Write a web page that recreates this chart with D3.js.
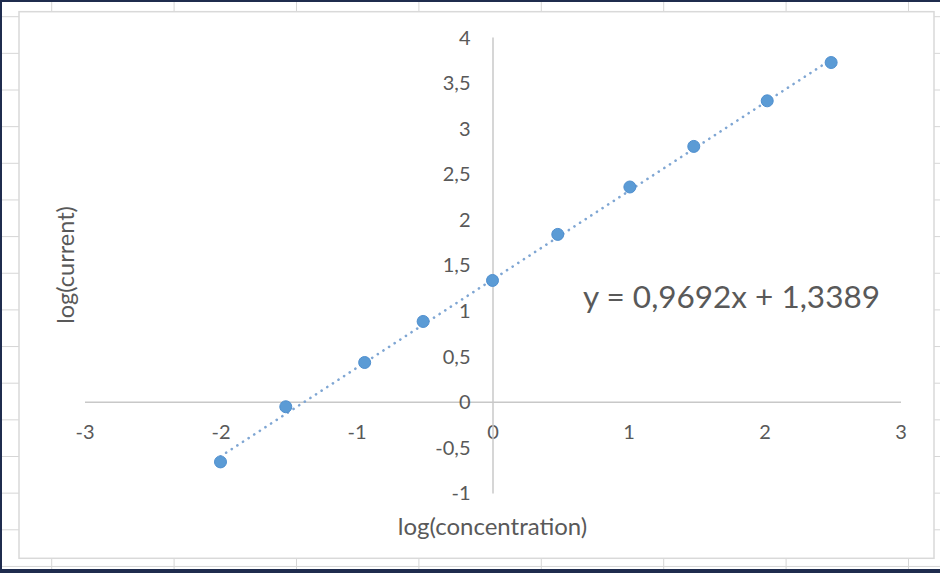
<!DOCTYPE html>
<html>
<head>
<meta charset="utf-8">
<script src="https://cdn.jsdelivr.net/npm/d3@7"></script>
<style>
  body { margin: 0; background: #fff; }
  text { font-family: Lato, "Open Sans", sans-serif; fill: #595959; }
</style>
</head>
<body>
<svg id="chart" width="940" height="573"></svg>
<script>
// values
const logConc    = [-2, -1.52, -0.94, -0.51, 0, 0.48, 1.01, 1.48, 2.02, 2.49];
const logCurrent = [-0.66, -0.055, 0.43, 0.88, 1.33, 1.835, 2.355, 2.80, 3.30, 3.72];
const xTicks = [-3, -2, -1, 0, 1, 2, 3];
const yTicks = [-1, -0.5, 0, 0.5, 1, 1.5, 2, 2.5, 3, 3.5, 4];
const slope = 0.9692, intercept = 1.3389;
const eqLabel = "y = 0,9692x + 1,3389";

const svg = d3.select("#chart"),
    width = +svg.attr("width"),
    height = +svg.attr("height");

// comma decimals, plain hyphen minus like excel
const comma = d3.formatLocale({decimal: ",", thousands: ".", grouping: [3], currency: ["", "€"], minus: "-"}).format("~g");

// spreadsheet behind the chart
const sheet = svg.append("g");
sheet.selectAll("line.col")
    .data(d3.range(0, 8))
    .enter().append("line")
    .attr("x1", d => 51.7 + d * 122.4).attr("x2", d => 51.7 + d * 122.4)
    .attr("y1", 0).attr("y2", height)
    .style("stroke", "#d6d6d6").style("stroke-width", 1);
sheet.selectAll("line.row")
    .data(d3.range(0, 16))
    .enter().append("line")
    .attr("y1", d => 16.7 + d * 36.65).attr("y2", d => 16.7 + d * 36.65)
    .attr("x1", 0).attr("x2", width)
    .style("stroke", "#d6d6d6").style("stroke-width", 1);

// chart area
svg.append("rect")
    .attr("x", 19).attr("y", 11.7)
    .attr("width", 915).attr("height", 546.6)
    .style("fill", "#fff")
    .style("stroke", "#d9d9d9").style("stroke-width", 1.5);

// window frame
svg.append("rect").attr("x", 0).attr("y", 0).attr("width", width).attr("height", 2).style("fill", "#1f2c4e");
svg.append("rect").attr("x", 0).attr("y", 0).attr("width", 2).attr("height", height).style("fill", "#1f2c4e");
svg.append("rect").attr("x", 0).attr("y", 569).attr("width", width).attr("height", 4).style("fill", "#1f2c4e");

let x = d3.scaleLinear().domain([-3, 3]).range([84.5, 900.5]);
let y = d3.scaleLinear().domain([-1, 4]).range([492.9, 37]);

// x axis through y = 0
const xAxis = svg.append("g")
    .attr("transform", `translate(0,${y(0)})`)
    .call(d3.axisBottom(x).tickValues(xTicks).tickSize(0).tickFormat(comma));
xAxis.select(".domain").style("stroke", "#c8c8c8").style("stroke-width", 1.5);
xAxis.selectAll("text")
    .attr("y", 30).attr("dy", "0.35em")
    .style("font-size", "20px").style("fill", "#595959")
    .style("font-family", "Lato, 'Open Sans', sans-serif");

// y axis through x = 0
const yAxis = svg.append("g")
    .attr("transform", `translate(${x(0)},0)`)
    .call(d3.axisLeft(y).tickValues(yTicks).tickSize(0).tickFormat(comma));
yAxis.select(".domain").style("stroke", "#c8c8c8").style("stroke-width", 1.5);
yAxis.selectAll("text")
    .attr("x", -22).attr("dy", "0.35em")
    .style("font-size", "20px").style("fill", "#595959")
    .style("font-family", "Lato, 'Open Sans', sans-serif");

// trendline
const x0 = d3.min(logConc), x1 = d3.max(logConc);
svg.append("line")
    .attr("x1", x(x0)).attr("y1", y(slope * x0 + intercept))
    .attr("x2", x(x1)).attr("y2", y(slope * x1 + intercept))
    .style("stroke", "#7fa6d3")
    .style("stroke-width", 2.6)
    .style("stroke-linecap", "round")
    .style("stroke-dasharray", "0.1 6.6");

// markers
const points = logConc.map((d, i) => ({x: d, y: logCurrent[i]}));
svg.append("g")
    .selectAll("circle")
    .data(points)
    .enter()
    .append("circle")
    .attr("cx", d => x(d.x))
    .attr("cy", d => y(d.y))
    .attr("r", 6)
    .style("fill", "#5b9bd5")
    .style("stroke", "#4f8fcf")
    .style("stroke-width", 1);

// equation label
svg.append("text")
    .attr("x", 583).attr("y", 308)
    .style("font-size", "31.5px")
    .text(eqLabel);

// axis titles
svg.append("text")
    .attr("x", x(0)).attr("y", 535)
    .attr("text-anchor", "middle")
    .style("font-size", "24px")
    .text("log(concentration)");

svg.append("text")
    .attr("transform", `translate(74,${(y(4) + y(-1)) / 2}) rotate(-90)`)
    .attr("text-anchor", "middle")
    .style("font-size", "23.5px")
    .text("log(current)");
</script>
</body>
</html>
